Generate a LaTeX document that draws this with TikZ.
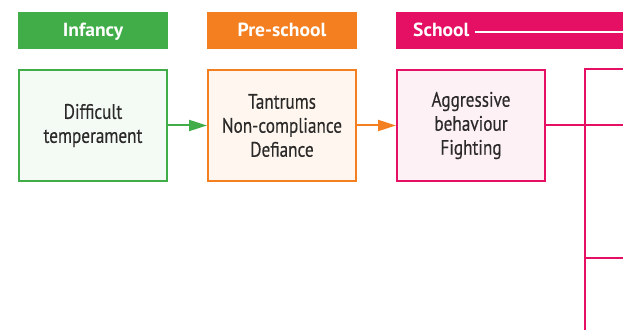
\documentclass[tikz,border=0pt]{standalone}
\usepackage{fontspec}
\setmainfont{PT Sans}[FakeStretch=0.82, FakeBold=0.3]
\newfontfamily\bandfont{PT Sans}[FakeStretch=1.03]
\usetikzlibrary{arrows.meta, positioning}
\definecolor{infancygreen}{HTML}{41AD49}
\definecolor{preschoolorange}{HTML}{F47F20}
\definecolor{schoolpink}{HTML}{E50F63}
\definecolor{inkgray}{HTML}{2B2A29}
\tikzset{
  stage/.style={rectangle, minimum width=150pt, minimum height=37pt, inner sep=0pt, outer sep=0pt, text height=15pt, text depth=2pt, text=white, font=\bandfont\fontsize{19}{24}\selectfont\bfseries},
  behaviour/.style={rectangle, minimum width=148pt, minimum height=111pt, inner sep=0pt, outer sep=1pt, align=center, line width=2pt, text=inkgray, font=\fontsize{21}{24}\selectfont},
  link/.style={line width=2pt, -{Triangle[length=18pt, width=11pt]}},
  trunk/.style={line width=2pt, schoolpink}
}

\begin{document}
\begin{tikzpicture}[x=1pt, y=1pt, node distance=20pt and 39pt]
    \clip (0,0) rectangle (623,329);
    % Age bands
    \node[stage, fill=infancygreen] (infancy) at (93,298.5) {Infancy};
    \node[stage, fill=preschoolorange, right=of infancy] (preschool) {Pre-school};
    \node[stage, fill=schoolpink, minimum width=260pt, right=of preschool] (school) {};
    \node[anchor=base west, inner sep=0pt, text=white, font=\bandfont\fontsize{19}{24}\selectfont\bfseries] (schoollabel) at ([xshift=17pt, yshift=-6.5pt]school.west) {School};
    \draw[white, line width=1.5pt] ([xshift=5pt, yshift=5pt]schoollabel.base east) -- ([yshift=5pt]schoollabel.base east -| school.east);

    % Behaviours
    \node[behaviour, draw=infancygreen, fill=infancygreen!6, below=of infancy] (temperament) {Difficult\\temperament};
    \node[behaviour, draw=preschoolorange, fill=preschoolorange!7, below=of preschool] (tantrums) {Tantrums\\Non-compliance\\Defiance};
    \node[behaviour, draw=schoolpink, fill=schoolpink!6, right=of tantrums] (aggressive) {Aggressive\\behaviour\\Fighting};

    \draw[link, infancygreen] (temperament) -- (tantrums);
    \draw[link, preschoolorange] (tantrums) -- (aggressive);

    % School outcomes
    \coordinate (trunktop) at (585,260);
    \coordinate (trunkfoot) at (585,-5);
    \coordinate (outA) at (630,260);
    \coordinate (outB) at (630,71);
    \draw[trunk] (outA) -- (trunktop) -- (trunkfoot);
    \draw[trunk] (trunktop |- outB) -- (outB);
    \draw[trunk] (aggressive.east) -- (aggressive.east -| outA);
\end{tikzpicture}
\end{document}
